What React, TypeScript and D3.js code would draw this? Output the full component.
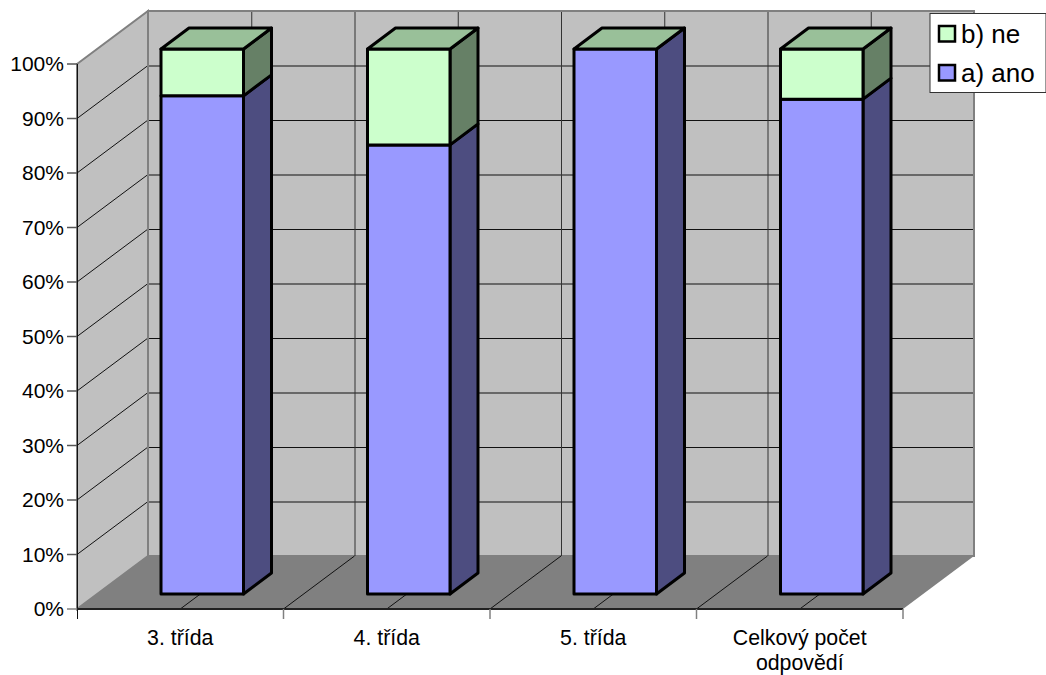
import React from "react";
import * as d3 from "d3";

const categories = ["3. třída", "4. třída", "5. třída", "Celkový počet|odpovědí"];
const anoValues = [91.4, 82.4, 100, 90.8];
const neValues = [8.6, 17.6, 0, 9.2];
const yTicks = [0, 10, 20, 30, 40, 50, 60, 70, 80, 90, 100];
const legendItems = [
  { label: "b) ne", color: "#ccffcc" },
  { label: "a) ano", color: "#9999ff" },
];

const FONT = "Liberation Sans, Arial, sans-serif";
const x = d3.scaleBand<number>().domain(d3.range(categories.length)).range([77, 903]);
const y = d3.scaleLinear().domain([0, 100]).range([609, 64]);
const DX = 71, DY = -53;
const BDX = 28, BDY = -21;
const BAR_W = 82.5;
const pts = (p: number[][]) => p.map((q) => q.join(",")).join(" ");

export default function App() {
  const x0 = x.range()[0], x1 = x.range()[1];
  const y0 = y(0), y100 = y(100);
  const barBaseY = 594;
  const h = (v: number) => (v / 100) * (y0 - y100);
  const edges = d3.range(categories.length + 1).map((i) => x0 + i * x.bandwidth());
  return (
    <svg width={1046} height={675} style={{ position: "absolute", left: 0, top: 0, background: "#fff" }} fontFamily={FONT}>
      {/* back wall */}
      <polygon points={pts([[x0 + DX, y100 + DY], [x1 + DX, y100 + DY], [x1 + DX, y0 + DY], [x0 + DX, y0 + DY]])} fill="#c0c0c0" stroke="#808080" strokeWidth={2} />
      {/* side wall */}
      <polygon points={pts([[x0, y100], [x0 + DX, y100 + DY], [x0 + DX, y0 + DY], [x0, y0]])} fill="#c0c0c0" stroke="#808080" strokeWidth={2} />
      {/* floor */}
      <polygon points={pts([[x0, y0], [x1, y0], [x1 + DX, y0 + DY], [x0 + DX, y0 + DY]])} fill="#808080" />
      {/* grid */}
      {yTicks.slice(1, -1).map((t) => (
        <g key={t} stroke="#111" strokeWidth={1}>
          <line x1={x0 + DX} x2={x1 + DX} y1={y(t) + DY + 0.5} y2={y(t) + DY + 0.5} />
          <line x1={x0} y1={y(t)} x2={x0 + DX} y2={y(t) + DY} />
        </g>
      ))}
      {edges.slice(1, -1).map((e) => (
        <g key={e} stroke="#111" strokeWidth={1}>
          <line x1={e + DX + 0.5} x2={e + DX + 0.5} y1={y100 + DY} y2={y0 + DY} stroke="#333" />
          <line x1={e} y1={y0} x2={e + DX} y2={y0 + DY} />
        </g>
      ))}
      {/* category mid lines */}
      {categories.map((_, i) => {
        const cx = x(i)! + x.bandwidth() / 2;
        return (
          <g key={i} stroke="#111" strokeWidth={1}>
            <line x1={cx} y1={y0} x2={cx + DX} y2={y0 + DY} />
            <line x1={cx + DX + 0.5} x2={cx + DX + 0.5} y1={y100 + DY} y2={y0 + DY} stroke="#333" />
          </g>
        );
      })}
      {/* wall re-edges */}
      <line x1={x0 + DX} x2={x0 + DX} y1={y100 + DY} y2={y0 + DY} stroke="#808080" strokeWidth={2} />
      <line x1={x0 + DX} x2={x1 + DX} y1={y100 + DY} y2={y100 + DY} stroke="#808080" strokeWidth={2} />
      <line x1={x1 + DX} x2={x1 + DX} y1={y100 + DY} y2={y0 + DY} stroke="#808080" strokeWidth={2} />
      {/* axes */}
      <line x1={x0 + 0.5} x2={x0 + 0.5} y1={y100} y2={619} stroke="#111" />
      <line x1={x0} x2={x1} y1={y0} y2={y0} stroke="#222" strokeWidth={2} />
      {yTicks.map((t) => (
        <g key={t}>
          <line x1={67} x2={x0} y1={y(t)} y2={y(t)} stroke={t === 0 ? "#808080" : "#555"} strokeWidth={1.5} />
          <text x={64} y={y(t) + 7} textAnchor="end" fontSize={21} fill="#000">{t}%</text>
        </g>
      ))}
      {edges.slice(1).map((e) => (
        <line key={e} x1={e} x2={e} y1={y0} y2={619} stroke="#808080" strokeWidth={1.5} />
      ))}
      {categories.map((c, i) => {
        const lines = c.split("|");
        return (
          <text key={c} textAnchor="middle" fontSize={21.3} fill="#000" y={644.5}>
            {lines.map((l, j) => (
              <tspan key={l} x={x(i)! + x.bandwidth() / 2} dy={j === 0 ? 0 : 25}>{l}</tspan>
            ))}
          </text>
        );
      })}
      {/* bars */}
      {categories.map((_, i) => {
        const left = x(i)! + 84;
        const right = left + BAR_W;
        const a = anoValues[i], n = neValues[i];
        const yA = barBaseY - h(a);
        const yT = barBaseY - h(a + n);
        return (
          <g key={i} stroke="#000" strokeWidth={3} strokeLinejoin="round">
            <polygon points={pts([[right, barBaseY], [right + BDX, barBaseY + BDY], [right + BDX, yA + BDY], [right, yA]])} fill="#4d4d80" />
            <rect x={left} y={yA} width={BAR_W} height={h(a)} fill="#9999ff" />
            {n > 0 && (
              <>
                <polygon points={pts([[right, yA], [right + BDX, yA + BDY], [right + BDX, yT + BDY], [right, yT]])} fill="#668066" />
                <rect x={left} y={yT} width={BAR_W} height={h(n)} fill="#ccffcc" />
              </>
            )}
            <polygon points={pts([[left, yT], [right, yT], [right + BDX, yT + BDY], [left + BDX, yT + BDY]])} fill="#99c099" />
          </g>
        );
      })}
      {/* legend */}
      <rect x={930} y={13.5} width={116} height={79} fill="#fff" stroke="#333" strokeWidth={1} />
      {legendItems.map((it, i) => (
        <g key={it.label}>
          <rect x={939} y={26 + i * 39} width={16} height={15.5} fill={it.color} stroke="#000" strokeWidth={2.5} />
          <text x={961} y={43 + i * 39} fontSize={26} fill="#000">{it.label}</text>
        </g>
      ))}
    </svg>
  );
}
